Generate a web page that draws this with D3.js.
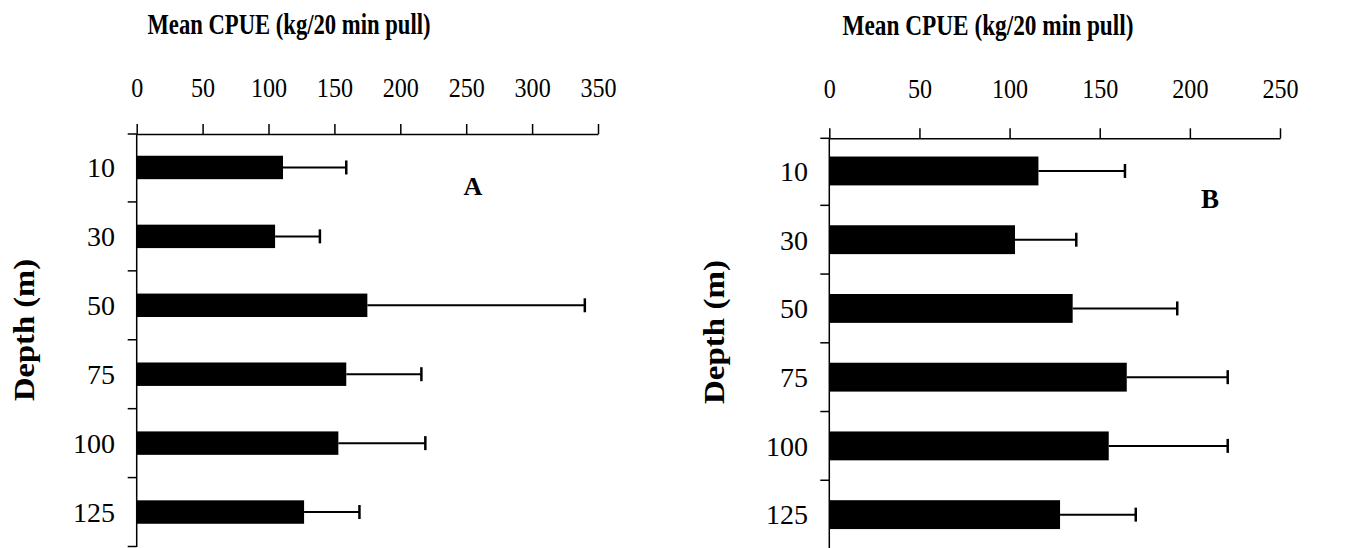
<!DOCTYPE html>
<html>
<head>
<meta charset="utf-8">
<script src="https://cdn.jsdelivr.net/npm/d3@7"></script>
<style>
  html, body { margin: 0; padding: 0; background: #fff; }
  svg { display: block; }
</style>
</head>
<body>
<svg id="chart" width="1353" height="548"></svg>
<script>
const depths = ["10", "30", "50", "75", "100", "125"];
const meanA = [111, 105, 175, 159, 153, 127];
const errA = [48, 34, 165, 57, 66, 42];
const meanB = [116, 103, 135, 165, 155, 128];
const errB = [48, 34, 58, 56, 66, 42];
const ticksA = [0, 50, 100, 150, 200, 250, 300, 350];
const ticksB = [0, 50, 100, 150, 200, 250];
const xTitle = "Mean CPUE (kg/20 min pull)";
const yTitle = "Depth (m)";

const FONT = "'Liberation Serif', 'Times New Roman', Times, serif";
const svg = d3.select("#chart");

function squeeze(sel, f) {
  sel.each(function () {
    const w = this.getComputedTextLength();
    d3.select(this).attr("textLength", w * f).attr("lengthAdjust", "spacingAndGlyphs");
  });
}

function panel(cfg) {
  const g = svg.append("g").attr("font-family", FONT);
  const x = d3.scaleLinear().domain([0, cfg.max]).range([cfg.x0, cfg.x1]);
  const y = d3.scaleBand().domain(depths).range([cfg.y0, cfg.y1])
    .paddingInner(cfg.pad).paddingOuter(cfg.pad / 2);

  // top axis
  const ax = g.append("g").attr("transform", `translate(0,${cfg.axisY})`)
    .call(d3.axisTop(x).tickValues(cfg.ticks).tickSize(10).tickSizeOuter(0).tickPadding(cfg.tickPad));
  ax.attr("font-family", FONT).attr("font-size", 28);
  ax.select(".domain").attr("stroke", "#000").attr("stroke-width", 1.5);
  ax.selectAll(".tick line").attr("stroke", "#000").attr("stroke-width", 1.5);
  ax.selectAll(".tick text").attr("fill", "#000").call(squeeze, 0.86);

  // left axis line
  g.append("line").attr("x1", x(0)).attr("x2", x(0))
    .attr("y1", cfg.axisY).attr("y2", cfg.yEnd)
    .attr("stroke", "#000").attr("stroke-width", 1.5);
  // boundary ticks
  const bounds = d3.range(depths.length + 1).map(i => cfg.y0 + i * y.step());
  g.selectAll(".btick").data(bounds).join("line")
    .attr("x1", x(0) - 9).attr("x2", x(0))
    .attr("y1", d => Math.max(d, cfg.axisY)).attr("y2", d => Math.max(d, cfg.axisY))
    .attr("stroke", "#000").attr("stroke-width", 1.5);

  // category labels
  g.selectAll(".cat").data(depths).join("text")
    .attr("x", cfg.labelX).attr("y", d => y(d) + y.bandwidth() / 2)
    .attr("text-anchor", "end").attr("dy", "0.35em")
    .attr("font-size", 28)
    .text(d => d);

  const vals = cfg.mean.map((m, i) => ({ d: depths[i], m, e: cfg.err[i] }));
  // error bars
  g.selectAll(".eb").data(vals).join("line")
    .attr("x1", d => x(d.m)).attr("x2", d => x(d.m + d.e))
    .attr("y1", d => y(d.d) + y.bandwidth() / 2).attr("y2", d => y(d.d) + y.bandwidth() / 2)
    .attr("stroke", "#000").attr("stroke-width", 2);
  g.selectAll(".cap").data(vals).join("line")
    .attr("x1", d => x(d.m + d.e)).attr("x2", d => x(d.m + d.e))
    .attr("y1", d => y(d.d) + y.bandwidth() / 2 - 7).attr("y2", d => y(d.d) + y.bandwidth() / 2 + 7)
    .attr("stroke", "#000").attr("stroke-width", 2.5);
  // bars
  g.selectAll(".bar").data(vals).join("rect")
    .attr("x", x(0)).attr("y", d => y(d.d))
    .attr("width", d => x(d.m) - x(0)).attr("height", y.bandwidth())
    .attr("fill", "#000");

  // titles
  g.append("text").attr("x", cfg.titleX).attr("y", cfg.titleY)
    .attr("text-anchor", "middle").attr("font-size", 30).attr("font-weight", "bold")
    .attr("textLength", cfg.titleW).attr("lengthAdjust", "spacingAndGlyphs")
    .text(xTitle);
  g.append("text").attr("transform", `translate(${cfg.yTitleX},${cfg.yTitleY}) rotate(-90)`)
    .attr("text-anchor", "middle").attr("font-size", 29).attr("font-weight", "bold")
    .attr("textLength", cfg.yTitleW).attr("lengthAdjust", "spacingAndGlyphs")
    .text(yTitle);
  g.append("text").attr("x", cfg.letterX).attr("y", cfg.letterY)
    .attr("text-anchor", "middle").attr("font-size", cfg.letterFont).attr("font-weight", "bold")
    .text(cfg.letter);
}

panel({
  max: 350, ticks: ticksA, x0: 136.7, x1: 598, axisY: 134, y0: 133, y1: 546.5, yEnd: 547, pad: 0.66,
  tickPad: 27, labelX: 115,
  mean: meanA, err: errA,
  titleX: 289, titleY: 34, titleW: 283, yTitleX: 34, yTitleY: 330, yTitleW: 142,
  letter: "A", letterX: 473, letterY: 195, letterFont: 26
});
panel({
  max: 250, ticks: ticksB, x0: 829.3, x1: 1280, axisY: 138.3, y0: 136.6, y1: 549, yEnd: 548, pad: 0.58,
  tickPad: 30, labelX: 808,
  mean: meanB, err: errB,
  titleX: 988, titleY: 35, titleW: 291, yTitleX: 724, yTitleY: 332, yTitleW: 144,
  letter: "B", letterX: 1210, letterY: 208, letterFont: 27
});
</script>
</body>
</html>
